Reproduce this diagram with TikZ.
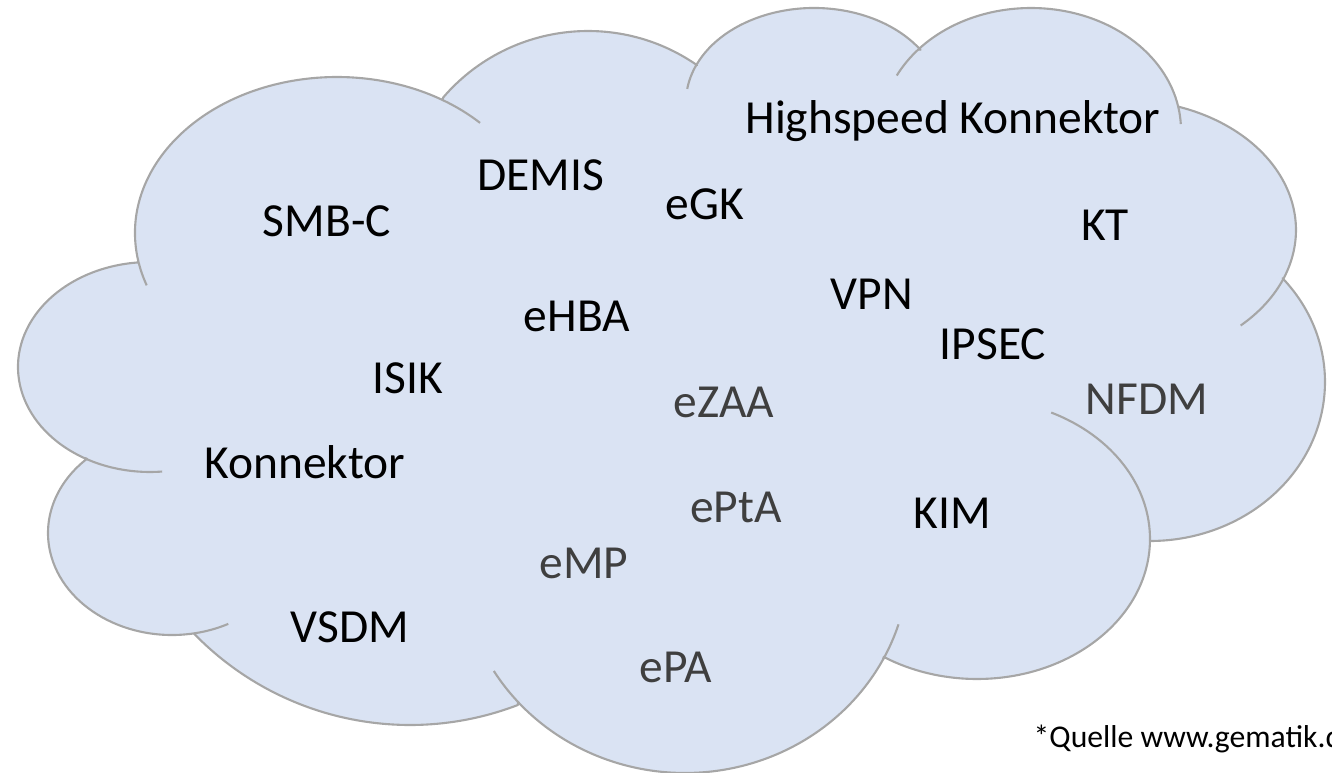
\documentclass[tikz,border=0pt]{standalone}
\usepackage{fontspec}
\setmainfont{Carlito}
\usepackage{xcolor}
\usepackage{tikz}
\usetikzlibrary{calc}

\definecolor{cloudfill}{HTML}{DAE3F3}
\definecolor{cloudedge}{HTML}{A6A6A6}
\definecolor{textgray}{HTML}{3F3F3F}

\begin{document}
\begin{tikzpicture}[x=0.01cm, y=-0.01cm,
    outline/.style={draw=cloudedge, line width=0.6pt},
    word/.style={anchor=base, inner sep=0pt, font=\fontsize{13.5}{16}\selectfont},
    grayword/.style={word, text=textgray}]
    \useasboundingbox (0,0) rectangle (1332,773);

    % Cloud
    \path[fill=cloudfill, outline, line join=round]
      ($(337,233)+(169:202 and 156)$) arc[start angle=169, end angle=301.5, x radius=202, y radius=156]
      -- ($(588,222)+(220.7:191 and 191)$) arc[start angle=220.7, end angle=304.8, radius=191]
      -- ($(814,102)+(203.3:128 and 94)$) arc[start angle=203.3, end angle=326.3, x radius=128, y radius=94]
      -- ($(1031,130)+(221.6:150 and 122)$) arc[start angle=221.6, end angle=349.1, x radius=150, y radius=122]
      -- ($(1124,230)+(288.4:172 and 130)$) arc[start angle=288.4, end angle=381.8, x radius=172, y radius=130]
      -- ($(1150,382)+(-40.7:175 and 159)$) arc[start angle=-40.7, end angle=90, x radius=175, y radius=159]
      -- ($(977,539)+(0.8:173 and 140)$) arc[start angle=0.8, end angle=122.6, x radius=173, y radius=140]
      -- ($(685,560)+(27.9:224 and 213)$) arc[start angle=27.9, end angle=138.2, x radius=224, y radius=213]
      -- ($(410,424)+(69:301 and 301)$) arc[start angle=69, end angle=135.8, radius=301]
      -- ($(172,533)+(79.3:124 and 102)$) arc[start angle=79.3, end angle=226.7, x radius=124, y radius=102]
      -- ($(150,367)+(119.9:132 and 105)$) arc[start angle=119.9, end angle=264.3, x radius=132, y radius=105]
      -- cycle;

    % Inner arcs
    \draw[outline] ($(337,233)+(160.4:202 and 156)$) arc[start angle=160.4, end angle=169, x radius=202, y radius=156];
    \draw[outline] ($(337,233)+(301.5:202 and 156)$) arc[start angle=301.5, end angle=315.1, x radius=202, y radius=156];
    \draw[outline] ($(814,102)+(188:128 and 94)$) arc[start angle=188, end angle=203.3, x radius=128, y radius=94];
    \draw[outline] ($(1031,130)+(206.5:150 and 122)$) arc[start angle=206.5, end angle=221.6, x radius=150, y radius=122];
    \draw[outline] ($(1031,130)+(349.1:150 and 122)$) arc[start angle=349.1, end angle=357.2, x radius=150, y radius=122];
    \draw[outline] ($(1124,230)+(381.8:172 and 130)$) arc[start angle=381.8, end angle=407.3, x radius=172, y radius=130];
    \draw[outline] ($(977,539)+(-64.6:173 and 140)$) arc[start angle=-64.6, end angle=0.8, x radius=173, y radius=140];
    \draw[outline] ($(685,560)+(17.6:224 and 213)$) arc[start angle=17.6, end angle=27.9, x radius=224, y radius=213];
    \draw[outline] ($(685,560)+(138.2:224 and 213)$) arc[start angle=138.2, end angle=148.6, x radius=224, y radius=213];
    \draw[outline] ($(172,533)+(63:124 and 102)$) arc[start angle=63, end angle=79.3, x radius=124, y radius=102];
    \draw[outline] ($(150,367)+(84.7:132 and 105)$) arc[start angle=84.7, end angle=119.9, x radius=132, y radius=105];

    % Nodes
    \node[word] (smbc) at (327,237) {SMB-C};
    \node[word] (demis) at (541,191) {DEMIS};
    \node[word] (egk) at (705,220) {eGK};
    \node[word] (hsk) at (953,134) {Highspeed Konnektor};
    \node[word] (kt) at (1105,241) {KT};
    \node[word] (vpn) at (872,310) {VPN};
    \node[word] (ipsec) at (993,360) {IPSEC};
    \node[word] (ehba) at (577,332) {eHBA};
    \node[word] (isik) at (408,394) {ISIK};
    \node[grayword] (ezaa) at (724,418) {eZAA};
    \node[grayword] (nfdm) at (1147,415) {NFDM};
    \node[word] (konn) at (305,479) {Konnektor};
    \node[grayword] (epta) at (736,523) {ePtA};
    \node[word] (kim) at (952,529) {KIM};
    \node[grayword] (emp) at (584,579) {eMP};
    \node[word] (vsdm) at (350,643) {VSDM};
    \node[grayword] (epa) at (676,683) {ePA};
    \node[anchor=base west, inner sep=0pt, font=\fontsize{9}{11}\selectfont] (src) at (1033,748) {*Quelle www.gematik.de};
\end{tikzpicture}
\end{document}
